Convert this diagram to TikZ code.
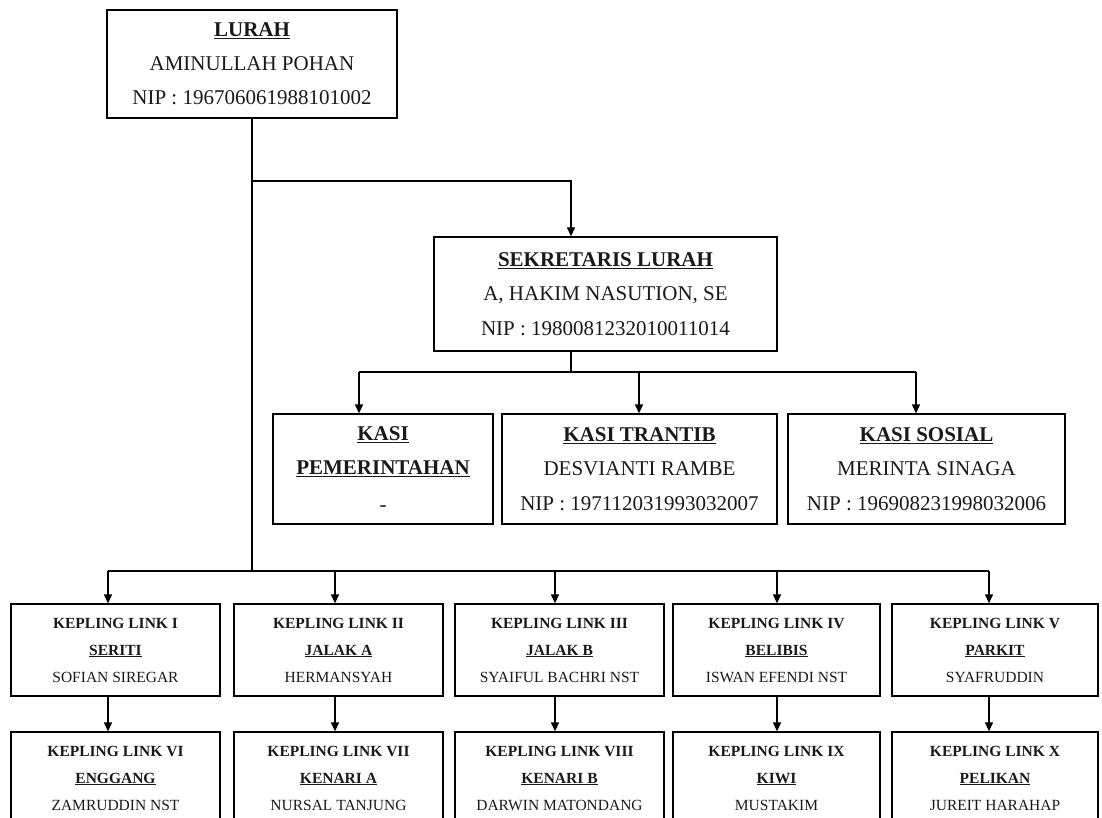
\documentclass[tikz,border=0pt]{standalone}
\usepackage{fontspec}
\setmainfont{Liberation Serif}
\usetikzlibrary{arrows.meta}
\begin{document}
\begin{tikzpicture}[x=1pt,y=-1pt,
  box/.style={draw, line width=1.3pt, align=center, inner sep=0pt, text=black!90},
  big/.style={box, font=\fontsize{21}{34.5}\selectfont},
  kbox/.style={box, font=\fontsize{15.5}{27}\selectfont\bfseries, minimum width=209pt, minimum height=92pt},
  conn/.style={line width=1.3pt},
  arr/.style={conn, -{Triangle[length=9pt,width=8pt]}},
]
\useasboundingbox (0,0) rectangle (1102,818);
\clip (0,0) rectangle (1102,818);

% Top level
\node[big, minimum width=290pt, minimum height=108pt, text depth=0pt] (lurah) at (252,64)
  {\raisebox{-2pt}{\underline{\textbf{LURAH}}}\\[1pt]AMINULLAH POHAN\\NIP : 196706061988101002};

\node[big, minimum width=343pt, minimum height=114pt] (sek) at (605.5,294)
  {\underline{\textbf{SEKRETARIS LURAH}}\\A, HAKIM NASUTION, SE\\NIP : 1980081232010011014};

% Kasi
\node[big, minimum width=220pt, minimum height=110pt] (kasi1) at (383,469)
  {\underline{\textbf{KASI}}\\\underline{\textbf{PEMERINTAHAN}}\\[2pt]-};
\node[big, minimum width=275pt, minimum height=110pt] (kasi2) at (639.5,469)
  {\underline{\textbf{KASI TRANTIB}}\\DESVIANTI RAMBE\\NIP : 197112031993032007};
\node[big, minimum width=277pt, minimum height=110pt] (kasi3) at (926.5,469)
  {\underline{\textbf{KASI SOSIAL}}\\MERINTA SINAGA\\NIP : 196908231998032006};

% Kepling row 1
\node[kbox] (k1) at (115.5,650) {KEPLING LINK I\\\underline{SERITI}\\\mdseries SOFIAN SIREGAR};
\node[kbox] (k2) at (338.5,650) {KEPLING LINK II\\\underline{JALAK A}\\\mdseries HERMANSYAH};
\node[kbox] (k3) at (559.5,650) {KEPLING LINK III\\\underline{JALAK B}\\\mdseries SYAIFUL BACHRI NST};
\node[kbox, minimum width=207pt] (k4) at (776.5,650) {KEPLING LINK IV\\\underline{BELIBIS}\\\mdseries ISWAN EFENDI NST};
\node[kbox, minimum width=206pt] (k5) at (995,650) {KEPLING LINK V\\\underline{PARKIT}\\\mdseries SYAFRUDDIN};

% Kepling row 2
\node[kbox] (k6) at (115.5,778) {KEPLING LINK VI\\\underline{ENGGANG}\\\mdseries ZAMRUDDIN NST};
\node[kbox] (k7) at (338.5,778) {KEPLING LINK VII\\\underline{KENARI A}\\\mdseries NURSAL TANJUNG};
\node[kbox] (k8) at (559.5,778) {KEPLING LINK VIII\\\underline{KENARI B}\\\mdseries DARWIN MATONDANG};
\node[kbox, minimum width=207pt] (k9) at (776.5,778) {KEPLING LINK IX\\\underline{KIWI}\\\mdseries MUSTAKIM};
\node[kbox, minimum width=206pt] (k10) at (995,778) {KEPLING LINK X\\\underline{PELIKAN}\\\mdseries JUREIT HARAHAP};

% Coordinates
\coordinate (lb) at (252,181);
\coordinate (ls) at (571,181);
\coordinate (kh) at (252,571);
\coordinate (kl) at (108,571);
\coordinate (kr) at (989,571);
\coordinate (sj) at (571,372);
\coordinate (sl) at (359,372);
\coordinate (sm) at (639,372);
\coordinate (sr) at (916,372);

% Lurah connectors
\draw[conn] (lurah.south) -- (kh);
\draw[arr] (lb) -- (ls) -- (sek.north -| ls);

% Sekretaris to kasi
\draw[conn] (sek.south -| sj) -- (sj);
\draw[conn] (sl) -- (sr);
\draw[arr] (sl) -- (kasi1.north -| sl);
\draw[arr] (sm) -- (kasi2.north -| sm);
\draw[arr] (sr) -- (kasi3.north -| sr);

% Kepling bus
\draw[conn] (kl) -- (kr);
\foreach \x/\n in {108/k1, 335/k2, 555/k3, 777/k4, 989/k5} {
  \draw[arr] (\x,571) -- (\n.north -| \x,0);
}
\foreach \x/\a/\b in {108/k1/k6, 335/k2/k7, 555/k3/k8, 777/k4/k9, 989/k5/k10} {
  \draw[arr] (\a.south -| \x,0) -- (\b.north -| \x,0);
}
\end{tikzpicture}
\end{document}
